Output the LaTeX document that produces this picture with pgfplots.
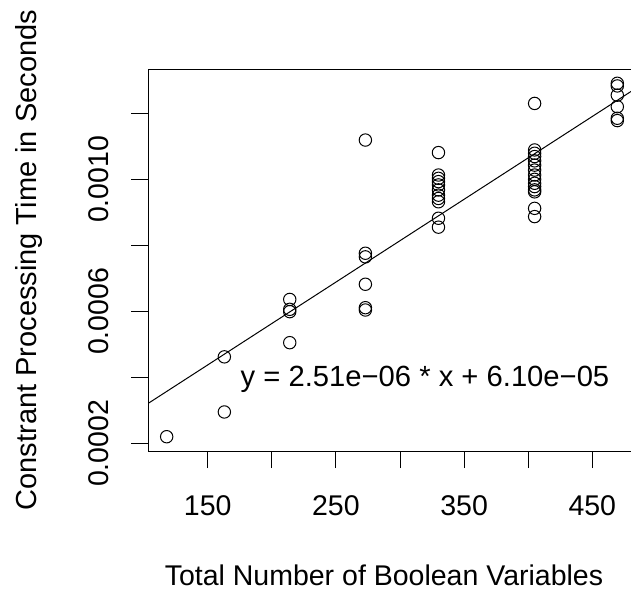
\documentclass[border=0pt]{standalone}
\usepackage{fontspec}
\setmainfont{Liberation Sans}
\usepackage{pgfplots}
\pgfplotsset{compat=1.18}
\begin{document}
\begin{tikzpicture}[font=\fontsize{28.5}{34}\selectfont]
\begin{axis}[
  at={(0,0)}, anchor=south west,
  scale only axis, width=486.7pt, height=381.7pt,
  xmin=103.67, xmax=483.3, ymin=0.0001767, ymax=0.0013334,
  xtick={150,200,250,300,350,400,450},
  xticklabels={150,,250,,350,,450},
  ytick={0.0002,0.0004,0.0006,0.0008,0.0010,0.0012},
  yticklabels={0.0002,,0.0006,,0.0010,},
  scaled y ticks=false, scaled x ticks=false,
  tick pos=left, tick align=outside, major tick length=17pt,
  axis line style={line width=1pt},
  every tick/.style={black, line width=1pt},
  xticklabel style={anchor=base, yshift=-47pt},
  yticklabel style={xshift=-23pt, rotate=90, anchor=base},
  every axis x label/.style={at={(axis description cs:0.5,0)}, xshift=-7.7pt, yshift=-134pt, anchor=base},
  every axis y label/.style={at={(axis description cs:0,0.5)}, xshift=-111.6pt, rotate=90, anchor=base, font=\fontsize{29}{34}\selectfont},
  xlabel={Total Number of Boolean Variables},
  ylabel={Constrant Processing Time in Seconds},
  clip=true,
]
\addplot[only marks, mark=o, mark size=6.2pt, mark options={line width=1pt}] table {
x y
118 0.000220
163 0.000462
163 0.000295
214 0.000636
214 0.000606
214 0.000599
214 0.000505
273 0.001119
273 0.000776
273 0.000765
273 0.000682
273 0.000611
273 0.000604
330 0.001081
330 0.001013
330 0.001003
330 0.000993
330 0.000983
330 0.000968
330 0.000952
330 0.000942
330 0.000932
330 0.000882
330 0.000855
405 0.001230
405 0.001089
405 0.001079
405 0.001069
405 0.001056
405 0.001043
405 0.001028
405 0.001013
405 0.001000
405 0.000988
405 0.000978
405 0.000968
405 0.000962
405 0.000912
405 0.000887
469.5 0.001291
469.5 0.001283
469.5 0.001255
469.5 0.001220
469.5 0.001185
469.5 0.001178
};
\addplot[black, line width=1pt] coordinates {(100,0.000312) (490,0.0012909)};
\node[anchor=base, font=\fontsize{29.2}{34}\selectfont] at (axis cs:319.5,0.0003715) {y = 2.51e−06 * x + 6.10e−05};
\end{axis}
\pgfresetboundingbox
\path (-148.3pt,-141pt) rectangle (482.7pt,451pt);
\end{tikzpicture}
\end{document}
